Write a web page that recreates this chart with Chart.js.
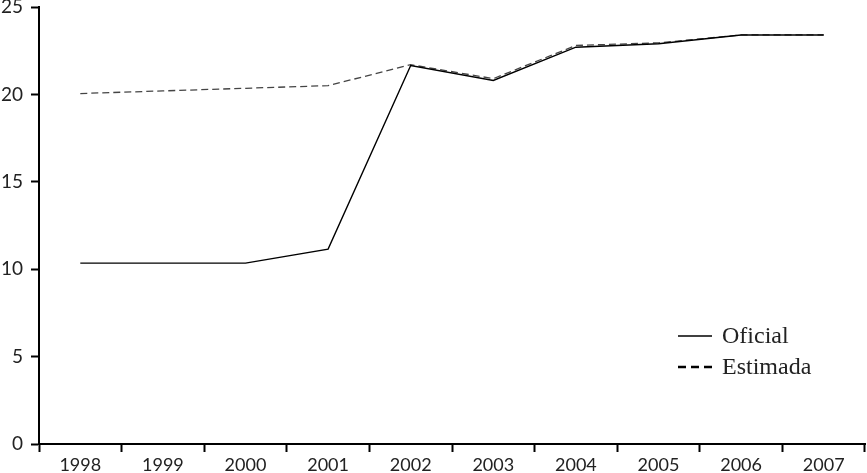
<!DOCTYPE html>
<html>
<head>
<meta charset="utf-8">
<script src="https://cdn.jsdelivr.net/npm/chart.js@4.4.1/dist/chart.umd.min.js"></script>
<style>
    html, body { margin: 0; padding: 0; background: #fff; }
    #wrap { width: 867px; height: 473px; }
</style>
</head>
<body>
<div id="wrap"><canvas id="chart"></canvas></div>
<script>
// Datos
const years = ["1998", "1999", "2000", "2001", "2002", "2003", "2004", "2005", "2006", "2007"];
const oficial = [10.35, 10.35, 10.35, 11.15, 21.65, 20.8, 22.7, 22.9, 23.4, 23.4];
const estimada = [20.05, 20.2, 20.35, 20.5, 21.7, 20.9, 22.8, 22.95, 23.4, 23.4];
const yTicks = [0, 5, 10, 15, 20, 25];

// Leyenda dibujada dentro del área del gráfico
const insideLegend = {
    id: "insideLegend",
    afterDraw(chart) {
        const ctx = chart.ctx;
        const items = [
            { label: "Oficial", dash: [], width: 1.3, y: 336 },
            { label: "Estimada", dash: [8, 5], width: 2.6, y: 367 }
        ];
        ctx.save();
        ctx.font = "24px 'Liberation Serif'";
        ctx.fillStyle = "#222";
        ctx.textBaseline = "middle";
        items.forEach(it => {
            ctx.beginPath();
            ctx.setLineDash(it.dash);
            ctx.lineWidth = it.width;
            ctx.strokeStyle = "#000";
            ctx.moveTo(678, it.y);
            ctx.lineTo(712, it.y);
            ctx.stroke();
            ctx.setLineDash([]);
            ctx.fillText(it.label, 722, it.y + 1);
        });
        ctx.restore();
    }
};

new Chart(document.getElementById("chart"), {
    type: "line",
    data: {
        labels: years,
        datasets: [
            {
                label: "Oficial",
                data: oficial,
                borderColor: "#000",
                borderWidth: 1.4,
                pointRadius: 0,
                tension: 0
            },
            {
                label: "Estimada",
                data: estimada,
                borderColor: "#444",
                borderWidth: 1.3,
                borderDash: [7, 4],
                pointRadius: 0,
                tension: 0
            }
        ]
    },
    options: {
        responsive: true,
        maintainAspectRatio: false,
        animation: false,
        layout: { padding: { top: 7, right: 2, left: 0, bottom: 0 } },
        plugins: {
            legend: { display: false },
            tooltip: { enabled: false }
        },
        scales: {
            x: {
                offset: true,
                grid: {
                    offset: true,
                    drawOnChartArea: false,
                    tickLength: 8,
                    tickWidth: 2,
                    tickColor: "#000"
                },
                border: { color: "#000", width: 2 },
                ticks: {
                    color: "#222",
                    padding: 2,
                    maxRotation: 0,
                    font: { family: "Lato", size: 18 }
                },
                afterFit(scale) {
                    scale.height = 29;
                    scale.paddingLeft = 0;
                    scale.paddingRight = 0;
                }
            },
            y: {
                min: 0,
                max: 25,
                afterBuildTicks(scale) {
                    scale.ticks = yTicks.map(v => ({ value: v }));
                },
                grid: {
                    drawOnChartArea: false,
                    tickLength: 8,
                    tickWidth: 2,
                    tickColor: "#000"
                },
                border: { color: "#000", width: 2 },
                ticks: {
                    color: "#222",
                    padding: 8,
                    font: { family: "Lato", size: 19 }
                },
                afterFit(scale) {
                    scale.width = 39;
                    scale.paddingTop = 0;
                    scale.paddingBottom = 0;
                }
            }
        }
    },
    plugins: [insideLegend]
});
</script>
</body>
</html>
